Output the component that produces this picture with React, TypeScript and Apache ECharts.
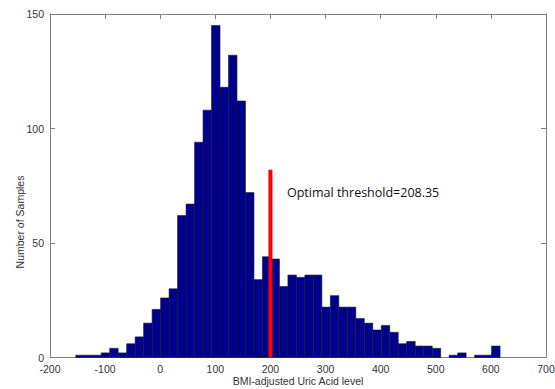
import React, { useEffect, useRef } from "react";
import * as echarts from "echarts";

// Histogram range (MATLAB hist, 50 equal bins between min and max of data)
const HIST_MIN = -153.3;
const HIST_MAX = 616.7;
const counts = [
  1, 1, 1, 2, 4, 2, 6, 9, 15, 21,
  26, 30, 62, 67, 94, 108, 145, 118, 132, 112,
  72, 34, 44, 43, 31, 36, 35, 36, 36, 22,
  27, 22, 22, 17, 15, 12, 14, 11, 6, 7,
  5, 5, 4, 0, 1, 2, 0, 1, 1, 5,
];
const xTickValues = [-200, -100, 0, 100, 200, 300, 400, 500, 600, 700];
const yTickValues = [0, 50, 100, 150];
const thresholdLineX = [200, 200];
const thresholdLineY = [0, 82];
const thresholdLabel = "Optimal threshold=208.35";
const xName = "BMI-adjusted Uric Acid level";
const yName = "Number of Samples";

export default function App() {
  const ref = useRef<HTMLDivElement>(null);
  useEffect(() => {
    if (!ref.current) return;
    const chart = echarts.init(ref.current, undefined, { renderer: "svg" });
    const nBins = counts.length;
    const w = (HIST_MAX - HIST_MIN) / nBins;
    const histData = counts.map((c, i) => [HIST_MIN + i * w, HIST_MIN + (i + 1) * w, c]);
    const axisColor = "#808080";
    const labelFont = { color: "#333", fontSize: 10.5, fontFamily: "Liberation Sans, Arial, sans-serif" };
    const xMin = xTickValues[0];
    const xMax = xTickValues[xTickValues.length - 1];
    const xInt = xTickValues[1] - xTickValues[0];
    const yMin = yTickValues[0];
    const yMax = yTickValues[yTickValues.length - 1];
    const yInt = yTickValues[1] - yTickValues[0];
    const commonAxis = {
      type: "value" as const,
      axisLine: { show: true, onZero: false, lineStyle: { color: axisColor, width: 1 } },
      axisTick: { show: true, inside: true, length: 5, lineStyle: { color: axisColor } },
      splitLine: { show: false },
    };
    chart.setOption({
      animation: false,
      backgroundColor: "#fff",
      grid: { left: 50, right: 9, top: 14, bottom: 31.5, outerBoundsMode: "none" },
      xAxis: [
        { ...commonAxis, min: xMin, max: xMax, interval: xInt, position: "bottom",
          axisLabel: { ...labelFont, margin: 6 } },
        { ...commonAxis, min: xMin, max: xMax, interval: xInt, position: "top",
          axisLabel: { show: false } },
      ],
      yAxis: [
        { ...commonAxis, min: yMin, max: yMax, interval: yInt, position: "left",
          axisLabel: { ...labelFont, margin: 6 } },
        { ...commonAxis, min: yMin, max: yMax, interval: yInt, position: "right",
          axisLabel: { show: false } },
      ],
      series: [
        {
          type: "custom",
          xAxisIndex: 0,
          yAxisIndex: 0,
          encode: { x: [0, 1], y: 2 },
          data: histData,
          renderItem: (params: any, api: any) => {
            const x0 = api.value(0);
            const x1 = api.value(1);
            const c = api.value(2);
            if (!c) return { type: "group", children: [] };
            const p0 = api.coord([x0, c]);
            const p1 = api.coord([x1, 0]);
            return {
              type: "rect",
              shape: { x: p0[0], y: p0[1], width: p1[0] - p0[0], height: p1[1] - p0[1] },
              style: { fill: "#00008F", stroke: "#1a1a1a", lineWidth: 0.6 },
            };
          },
        },
        {
          type: "line",
          xAxisIndex: 0,
          yAxisIndex: 0,
          data: thresholdLineX.map((x, i) => [x, thresholdLineY[i]]),
          showSymbol: false,
          symbol: "none",
          lineStyle: { color: "#ff0000", width: 4 },
          z: 5,
        },
      ],
      graphic: [
        {
          type: "text",
          left: 287,
          top: 186,
          style: { text: thresholdLabel, fill: "#111", fontSize: 12.5, fontFamily: "Open Sans, sans-serif" },
        },
        {
          type: "text",
          x: 20,
          y: 222,
          rotation: Math.PI / 2,
          style: { text: yName, fill: "#333", fontSize: 10.5, fontFamily: "Liberation Sans, Arial, sans-serif",
            align: "center", verticalAlign: "middle" },
        },
        {
          type: "text",
          x: 298,
          y: 381,
          style: { text: xName, fill: "#333", fontSize: 10.5, fontFamily: "Liberation Sans, Arial, sans-serif",
            align: "center", verticalAlign: "middle" },
        },
      ],
    });
    return () => chart.dispose();
  }, []);
  return (
    <div
      ref={ref}
      style={{ position: "fixed", left: 0, top: 0, width: 555, height: 389, background: "#fff" }}
    />
  );
}
